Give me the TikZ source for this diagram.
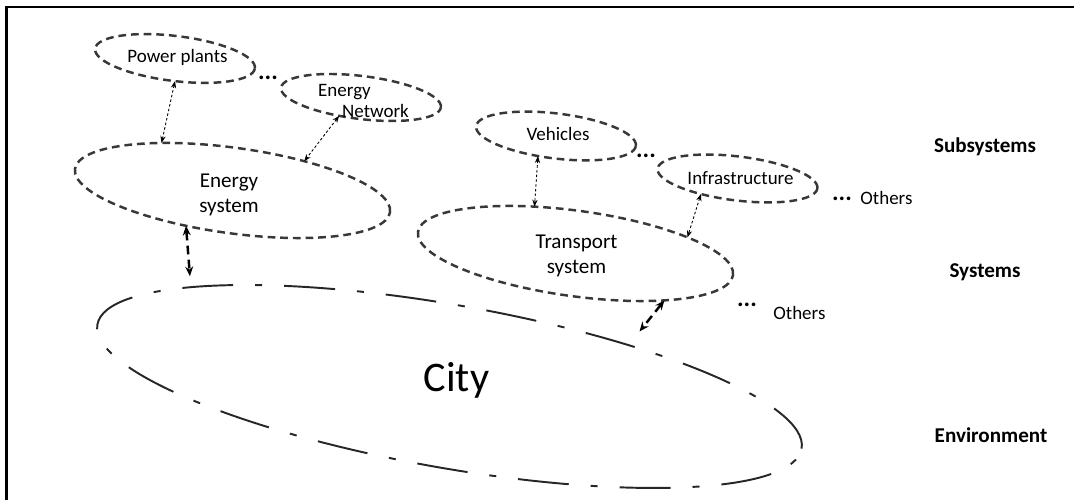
\documentclass[tikz,border=0pt]{standalone}
\usepackage{fontspec}
\setmainfont{Carlito}
\usetikzlibrary{shapes.geometric,arrows.meta}

\begin{document}
\begin{tikzpicture}[
    subsys/.style={ellipse, draw=black!78, line width=1.4pt, dash pattern=on 4.4pt off 2.8pt,
        inner sep=0pt, outer sep=0pt, minimum width=3.22cm, minimum height=0.9cm, rotate=-7},
    sys/.style={ellipse, draw=black!78, line width=1.4pt, dash pattern=on 4.4pt off 2.8pt,
        inner sep=0pt, outer sep=0pt, minimum width=6.36cm, minimum height=1.71cm, rotate=-7.8},
    link/.style={{Stealth[length=4pt,width=3pt]}-{Stealth[length=4pt,width=3pt]},
        line width=0.5pt, dash pattern=on 1.5pt off 1.2pt},
    biglink/.style={{Stealth[length=5.5pt,width=4.5pt]}-{Stealth[length=5.5pt,width=4.5pt]},
        line width=1.4pt, dash pattern=on 5pt off 3pt},
    small/.style={font=\fontsize{10.8}{11.4}\selectfont, inner sep=0pt},
    mid/.style={font=\fontsize{12}{14.2}\selectfont, inner sep=0pt},
    level/.style={font=\fontsize{12}{14}\selectfont\bfseries, inner sep=0pt, anchor=base},
    dots/.style={font=\fontsize{14}{15}\selectfont\bfseries, inner sep=0pt, anchor=base}
  ]
  \useasboundingbox (0,0) rectangle (21.48,10);

  % frame
  \draw[line width=1.2pt] (0.13,0) -- (0.13,9.86) -- (21.48,9.86);

  % subsystems
  \node[subsys] (pp) at (3.50,8.83) {};
  \node[subsys, minimum height=0.86cm] (en) at (7.22,8.05) {};
  \node[subsys] (veh) at (11.12,7.28) {};
  \node[subsys, minimum height=0.88cm] (infra) at (14.75,6.43) {};
  \node[small, anchor=base] (pptext) at (3.55,8.74) {Power plants};
  \node[small, align=left] (entext) at (7.27,7.98) {Energy\\\hspace*{0.48cm}Network};
  \node[small, anchor=base] (vehtext) at (11.16,7.18) {Vehicles};
  \node[small, anchor=base] (infratext) at (14.81,6.30) {Infrastructure};

  % systems
  \node[sys] (esys) at (4.65,6.19) {};
  \node[sys] (tsys) at (11.51,4.93) {};
  \node[mid, align=center] (esystext) at (4.58,6.10) {Energy\\system};
  \node[mid, align=center] (tsystext) at (11.53,4.88) {Transport\\system};

  % environment
  \node[ellipse, draw=black!85, line width=1.1pt, dash pattern=on 29pt off 12.5pt on 4pt off 12.5pt,
    inner sep=0pt, outer sep=0pt, minimum width=14.30cm, minimum height=3.26cm, rotate=-10] (city) at (8.99,2.27) {};
  \node[font=\fontsize{24}{28}\selectfont, inner sep=0pt, anchor=base] (citytext) at (9.13,2.16) {City};

  % links
  \draw[link] (pp.277) -- (esys.154);
  \draw[link] (en.227) -- (esys.30);
  \draw[link] (veh.235) -- (tsys.139);
  \draw[link] (infra.210) -- (tsys.16);
  \draw[biglink, shorten >=0.22cm] (esys.225) -- (city.169);
  \draw[biglink, shorten >=0.35cm] (tsys.340) -- (city.23);

  % dots and others
  \node[dots] (d1) at (5.36,8.40) {...};
  \node[dots] (d2) at (12.92,6.84) {...};
  \node[dots] (d3) at (16.84,5.98) {...};
  \node[dots] (d4) at (14.94,3.86) {...};
  \node[small, anchor=base west] (oth1) at (17.20,5.90) {Others};
  \node[small, anchor=base west] (oth2) at (15.46,3.60) {Others};

  % levels
  \node[level] (lsub) at (19.70,6.94) {Subsystems};
  \node[level] (lsys) at (19.70,4.44) {Systems};
  \node[level] (lenv) at (19.82,1.14) {Environment};

\end{tikzpicture}
\end{document}
